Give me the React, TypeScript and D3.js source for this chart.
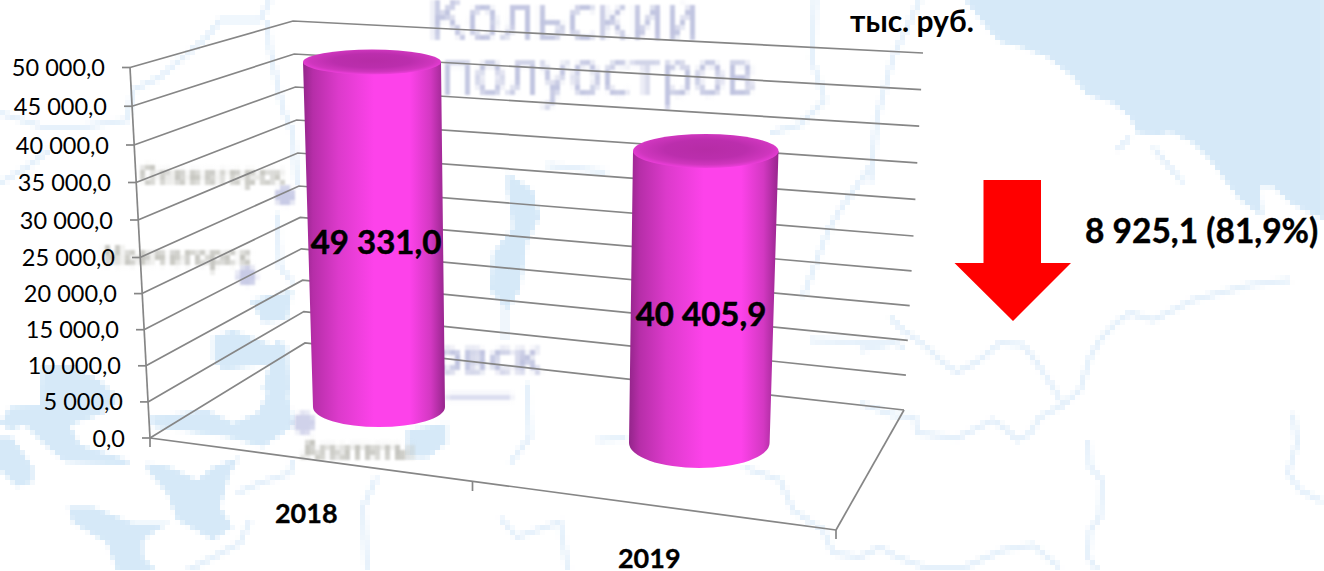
import React from "react";
import * as d3 from "d3";

const categories = ["2018", "2019"];
const values = [49331.0, 40405.9];
const valueLabels = ["49 331,0", "40 405,9"];
const yTicks = [0, 5000, 10000, 15000, 20000, 25000, 30000, 35000, 40000, 45000, 50000];
const unitLabel = "тыс. руб.";
const changeLabel = "8 925,1 (81,9%)";
const ghostLarge = ["Кольский", "полуостров"];
const ghostTowns = ["Оленегорск", "Мончегорск", "Кировск", "Апатиты"];

const fmt = (v: number) => d3.format(",.1f")(v).replace(/,/g, " ").replace(".", ",");

// projected chart box
const yFront = d3.scaleLinear().domain([0, 25000, 40000, 50000]).range([438, 257.5, 145, 67.5]);
const xFront = d3.scaleLinear().domain([0, 50000]).range([150, 130]);
const yBackL = d3.scaleLinear().domain([0, 25000, 50000]).range([343, 186, 21]);
const xBackL = d3.scaleLinear().domain([0, 50000]).range([305, 293]);
const yBackR = d3.scaleLinear().domain([0, 25000, 50000]).range([410, 236, 53]);
const xBackR = d3.scaleLinear().domain([0, 50000]).range([904, 923]);
const xBase = d3.scaleLinear().domain([0, 1, 2]).range([150, 472.5, 836]);
const yBase = d3.scaleLinear().domain([0, 1, 2]).range([438, 482, 530]);

// per-category cylinder projection (value -> y on its own depth plane)
const cylScales = [
  d3.scaleLinear().domain([0, 50000]).range([407, 57.3]),
  d3.scaleLinear().domain([0, 50000]).range([443, 81.7]),
];
const cylGeom = [
  { topL: 303, topR: 441, baseL: 313, baseR: 445, topRy: 12.5, baseRy: 20, labelX: 376, labelY: 254 },
  { topL: 633, topR: 778.5, baseL: 629, baseR: 769.6, topRy: 17, baseRy: 25, labelX: 701, labelY: 326 },
];

const water = "#d6e9f8";
const river = "#e6f1fb";
const waterPaths = [
  "M965,0 L990,32 L1000,42 L1020,47 L1047,57 L1073,77 L1087,95 L1113,103 L1130,117 L1137,133 L1157,135 L1170,132 L1193,143 L1210,160 L1227,183 L1240,200 L1263,217 L1260,187 L1273,187 L1290,203 L1324,220 L1324,0 Z",
  "M0,423 L10,407 L40,405 L42,367 L73,365 L103,383 L120,400 L100,415 L70,425 L80,445 L128,460 L128,465 L65,462 L45,445 L25,425 L10,430 L0,423 Z",
  "M0,437 L12,437 L33,467 L33,482 L17,487 L0,470 Z",
  "M213,337 L233,330 L277,347 L277,363 L223,370 L213,360 Z",
  "M250,300 L293,290 L287,320 L263,323 Z",
  "M277,340 L287,345 L290,393 L270,395 L262,390 Z",
  "M150,417 L207,410 L233,423 L257,413 L270,390 L287,393 L295,425 L263,447 L227,437 L153,427 Z",
  "M407,430 L447,423 L447,443 L427,458 L407,457 Z",
  "M147,463 L170,467 L197,480 L213,467 L240,457 L230,473 L220,507 L233,527 L213,540 L177,520 L167,493 L147,470 Z",
  "M68,507 L93,507 L133,523 L170,523 L157,530 L143,540 L143,557 L157,571 L117,571 L107,543 L73,523 Z",
  "M507,173 L533,190 L540,217 L527,243 L520,290 L507,310 L490,290 L493,253 L513,227 L507,190 Z",
];
const riverPaths = [
  "M890,317 L903,330 L927,347 L943,363 L957,372 L977,362 L1000,343 L1023,345 L1037,363 L1053,387 L1063,405 L1080,390 L1090,357 L1100,340 L1117,322 L1130,313 L1153,320 L1173,310 L1193,300 L1250,285 L1290,280",
  "M860,350 L893,343 L905,347",
  "M860,403 L893,415 L915,417 L917,433 L957,438 L977,428 L993,420 L1007,430 L1017,440 L1030,433 L1040,417 L1063,405",
  "M1088,440 L1090,467 L1102,480 L1100,517 L1090,530 L1088,557 L1098,571",
  "M1293,413 L1297,443 L1288,473 L1300,490 L1323,502",
  "M860,557 L880,547 L897,557 L927,568 L963,568 L1003,550 L1033,545 L1060,568",
  "M743,467 L780,480 L793,510 L823,530 L833,553 L860,557",
  "M500,518 L517,537 L560,522 L568,571",
  "M527,383 L530,437 L510,463",
  "M597,440 L627,438",
  "M873,163 L840,210 L827,233 L803,297",
  "M810,340 L887,343",
  "M547,165 L607,172",
  "M920,0 L893,57 L877,117 L870,183",
  "M815,0 L812,60 L825,100 L800,125 L770,133",
  "M505,305 L505,340",
  "M270,0 L260,20 L220,20 L207,37 L160,77 L133,90 L127,120 L83,127 L43,127 L0,113",
  "M267,20 L270,50 L283,110 L293,133 L297,187",
  "M277,213 L280,267 L293,283",
  "M0,183 L27,167 L50,150",
  "M237,493 L260,483 L290,473 L293,460",
  "M250,520 L240,543 L187,571",
  "M377,477 L363,507 L367,571",
  "M1117,150 L1130,137",
  "M1153,147 L1183,183",
];

const LINE = "#868686";

function Mosaic({ id, size, pre, post }: { id: string; size: number; pre: number; post: number }) {
  return (
    <filter id={id} filterUnits="userSpaceOnUse" x={0} y={0} width={1324} height={571} colorInterpolationFilters="sRGB">
      <feGaussianBlur in="SourceGraphic" stdDeviation={pre} result="b" />
      <feFlood x={Math.floor(size / 2)} y={Math.floor(size / 2)} width={1} height={1} floodColor="#000" />
      <feComposite x={0} y={0} width={size} height={size} />
      <feTile result="grid" />
      <feComposite in="b" in2="grid" operator="in" />
      <feMorphology operator="dilate" radius={Math.floor(size / 2)} />
      <feGaussianBlur stdDeviation={post} />
    </filter>
  );
}

export default function App() {
  const font = "Lato, Carlito, 'Open Sans', sans-serif";
  return (
    <svg width={1324} height={571} viewBox="0 0 1324 571" style={{ position: "absolute", left: 0, top: 0, background: "#fff" }} fontFamily={font}>
      <defs>
        <linearGradient id="body" x1="0" x2="1" y1="0" y2="0">
          <stop offset="0" stopColor="#93258a" />
          <stop offset="0.07" stopColor="#b62ea8" />
          <stop offset="0.25" stopColor="#dc3acb" />
          <stop offset="0.5" stopColor="#fd42ea" />
          <stop offset="0.75" stopColor="#fd42ea" />
          <stop offset="0.9" stopColor="#d338c2" />
          <stop offset="1" stopColor="#96268c" />
        </linearGradient>
        <radialGradient id="cap" cx="0.5" cy="0.45" r="0.56">
          <stop offset="0" stopColor="#b62ca6" />
          <stop offset="0.5" stopColor="#bb2ead" />
          <stop offset="0.8" stopColor="#cf36be" />
          <stop offset="0.97" stopColor="#ec3eda" />
          <stop offset="1" stopColor="#f441e2" />
        </radialGradient>
        <Mosaic id="mapMosaic" size={5} pre={1.2} post={0.6} />
        <Mosaic id="textMosaic" size={5} pre={1.2} post={0.8} />
      </defs>

      <g filter="url(#mapMosaic)">
        {riverPaths.map((d, i) => <path key={i} d={d} fill="none" stroke={river} strokeWidth={5.5} strokeLinejoin="round" />)}
        {waterPaths.map((d, i) => <path key={i} d={d} fill={water} />)}
      </g>

      <g filter="url(#textMosaic)" fill="#c0c4e0" fontFamily="'DejaVu Sans', sans-serif">
        <text x={428} y={39} fontSize={61} textLength={272} lengthAdjust="spacingAndGlyphs">{ghostLarge[0]}</text>
        <text x={440} y={95} fontSize={61} textLength={316} lengthAdjust="spacingAndGlyphs">{ghostLarge[1]}</text>
        <text x={352} y={373} fontSize={34} fontWeight={700} textLength={190} lengthAdjust="spacingAndGlyphs">{ghostTowns[2].toUpperCase()}</text>
        <line x1={447} y1={397} x2={512} y2={397} stroke="#dcdef0" strokeWidth={7} />
        <circle cx={285} cy={196} r={10} fill="#c8cbe6" />
        <circle cx={247} cy={276} r={10} fill="#c8cbe6" />
        <circle cx={304} cy={423} r={11} fill="#d0d2ea" />
      </g>
      <g filter="url(#textMosaic)" fill="#c4c4be" fontSize={27} fontWeight={700} fontFamily="'DejaVu Sans', sans-serif">
        <text x={140} y={184} textLength={145} lengthAdjust="spacingAndGlyphs">{ghostTowns[0]}</text>
        <text x={102} y={266} textLength={150} lengthAdjust="spacingAndGlyphs">{ghostTowns[1]}</text>
        <text x={302} y={459} textLength={112} lengthAdjust="spacingAndGlyphs">{ghostTowns[3]}</text>
      </g>

      {/* gridlines on side and back walls */}
      <g fill="none" stroke={LINE} strokeWidth={1.7}>
        {yTicks.map((t) => (
          <polyline key={t} points={`${xFront(t)},${yFront(t)} ${xBackL(t)},${yBackL(t)} ${xBackR(t)},${yBackR(t)}`} />
        ))}
        <line x1={xFront(0)} y1={yFront(0)} x2={xFront(50000)} y2={yFront(50000)} />
        {/* floor */}
        <line x1={xBase(0)} y1={yBase(0)} x2={xBase(2)} y2={yBase(2)} />
        <line x1={xBase(2)} y1={yBase(2)} x2={xBackR(0)} y2={yBackR(0)} />
        {[0, 1, 2].map((i) => (
          <line key={i} x1={xBase(i)} y1={yBase(i)} x2={xBase(i)} y2={yBase(i) + 9} />
        ))}
        {yTicks.map((t) => (
          <line key={t} x1={xFront(t) - 8} y1={yFront(t)} x2={xFront(t)} y2={yFront(t)} />
        ))}
      </g>

      {/* axis labels */}
      <g fontSize={23.5} fill="#000" textAnchor="end">
        {yTicks.map((t) => (
          <text key={t} x={xFront(t) - 25} y={yFront(t) + 8.5}>{fmt(t)}</text>
        ))}
      </g>

      {/* cylinders */}
      {values.map((v, i) => {
        const g = cylGeom[i];
        const s = cylScales[i];
        const top = s(v);
        const base = s(0);
        const rxB = (g.baseR - g.baseL) / 2;
        const d = `M${g.topL},${top} L${g.baseL},${base} A${rxB},${g.baseRy} 0 0 0 ${g.baseR},${base} L${g.topR},${top} Z`;
        return (
          <g key={categories[i]}>
            <path d={d} fill="url(#body)" />
            <ellipse cx={(g.topL + g.topR) / 2} cy={top} rx={(g.topR - g.topL) / 2} ry={g.topRy} fill="url(#cap)" />
            <text x={g.labelX} y={g.labelY} textAnchor="middle" fontSize={33} fontWeight={700} fill="#000" stroke="#000" strokeWidth={0.5}>{valueLabels[i]}</text>
          </g>
        );
      })}

      {/* category labels */}
      <g fontSize={27} fontWeight={700} fill="#000" textAnchor="middle" stroke="#000" strokeWidth={0.3}>
        {categories.map((c, i) => (
          <text key={c} x={xBase(i + 0.5) - 5} y={yBase(i + 0.5) + (i === 0 ? 62.5 : 61.5)}>{c}</text>
        ))}
      </g>

      <text x={850} y={32} fontSize={30} fontWeight={700} fill="#000">{unitLabel}</text>

      <path d="M983.5,180 L1041,180 L1041,263 L1071,263 L1013,321 L954.5,263 L983.5,263 Z" fill="#ff0000" />
      <text x={1085} y={243} fontSize={33.5} fontWeight={700} fill="#000" stroke="#000" strokeWidth={0.4}>{changeLabel}</text>
    </svg>
  );
}
